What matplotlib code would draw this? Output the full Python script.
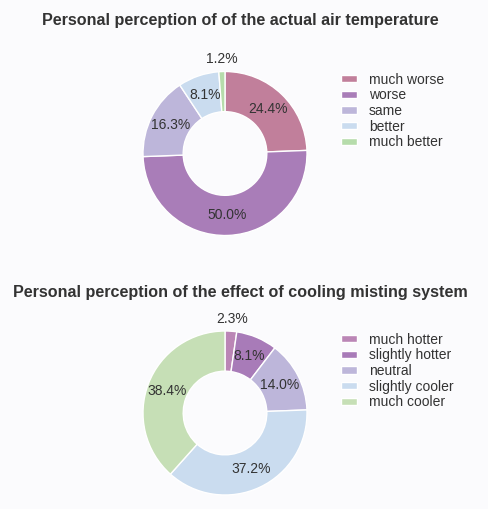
import matplotlib
matplotlib.use("Agg")
import matplotlib.pyplot as plt
import numpy as np

plt.rcParams['font.family'] = ['Liberation Sans', 'DejaVu Sans']

title1 = "Personal perception of of the actual air temperature"
labels1 = ["much worse", "worse", "same", "better", "much better"]
values1 = [24.4, 50.0, 16.3, 8.1, 1.2]
colors1 = ["#c17f9b", "#a97db8", "#bdb6da", "#cadcef", "#b6dcab"]

title2 = "Personal perception of the effect of cooling misting system"
labels2 = ["much hotter", "slightly hotter", "neutral", "slightly cooler", "much cooler"]
values2 = [2.3, 8.1, 14.0, 37.2, 38.4]
colors2 = ["#bb86b6", "#a87bb8", "#bdb6da", "#cadcef", "#c6dfb6"]

W, H = 488, 509
fig = plt.figure(figsize=(W / 100, H / 100), dpi=100)
fig.patch.set_facecolor("#fbfbfd")

TXT = "#333333"
R_PX = 82
LIM = 1.3


def donut(cx, cy, values, labels, colors, title, title_y, leg_y):
    size = 2 * R_PX * LIM
    ax = fig.add_axes([(cx - size / 2) / W, (H - cy - size / 2) / H, size / W, size / H])
    wedges, texts, autotexts = ax.pie(
        values, colors=colors, startangle=90, counterclock=False,
        autopct="%1.1f%%", pctdistance=0.75,
        wedgeprops=dict(width=0.49, edgecolor="white", linewidth=1),
        textprops=dict(color=TXT, fontsize=10))
    ax.set_xlim(-LIM, LIM)
    ax.set_ylim(-LIM, LIM)
    ax.set_aspect("equal")
    ax.axis("off")
    for w, t, v in zip(wedges, autotexts, values):
        if v < 5:
            ang = np.deg2rad((w.theta1 + w.theta2) / 2)
            t.set_position((1.15 * np.cos(ang), 1.15 * np.sin(ang)))
    fig.text(240 / W, 1 - title_y / H, title, ha="center", va="center",
             fontsize=11.6, fontweight="bold", color=TXT)
    fig.legend(wedges, labels, loc="upper left",
               bbox_to_anchor=(335 / W, 1 - leg_y / H), frameon=False,
               fontsize=10, labelcolor=TXT, handlelength=1.15, handleheight=0.45,
               handletextpad=0.9, labelspacing=0.12, borderaxespad=0)


donut(225, 153.5, values1, labels1, colors1, title1, 20, 67)
donut(225, 413, values2, labels2, colors2, title2, 293, 327)

fig.savefig("out.png", dpi=100, facecolor=fig.get_facecolor())
